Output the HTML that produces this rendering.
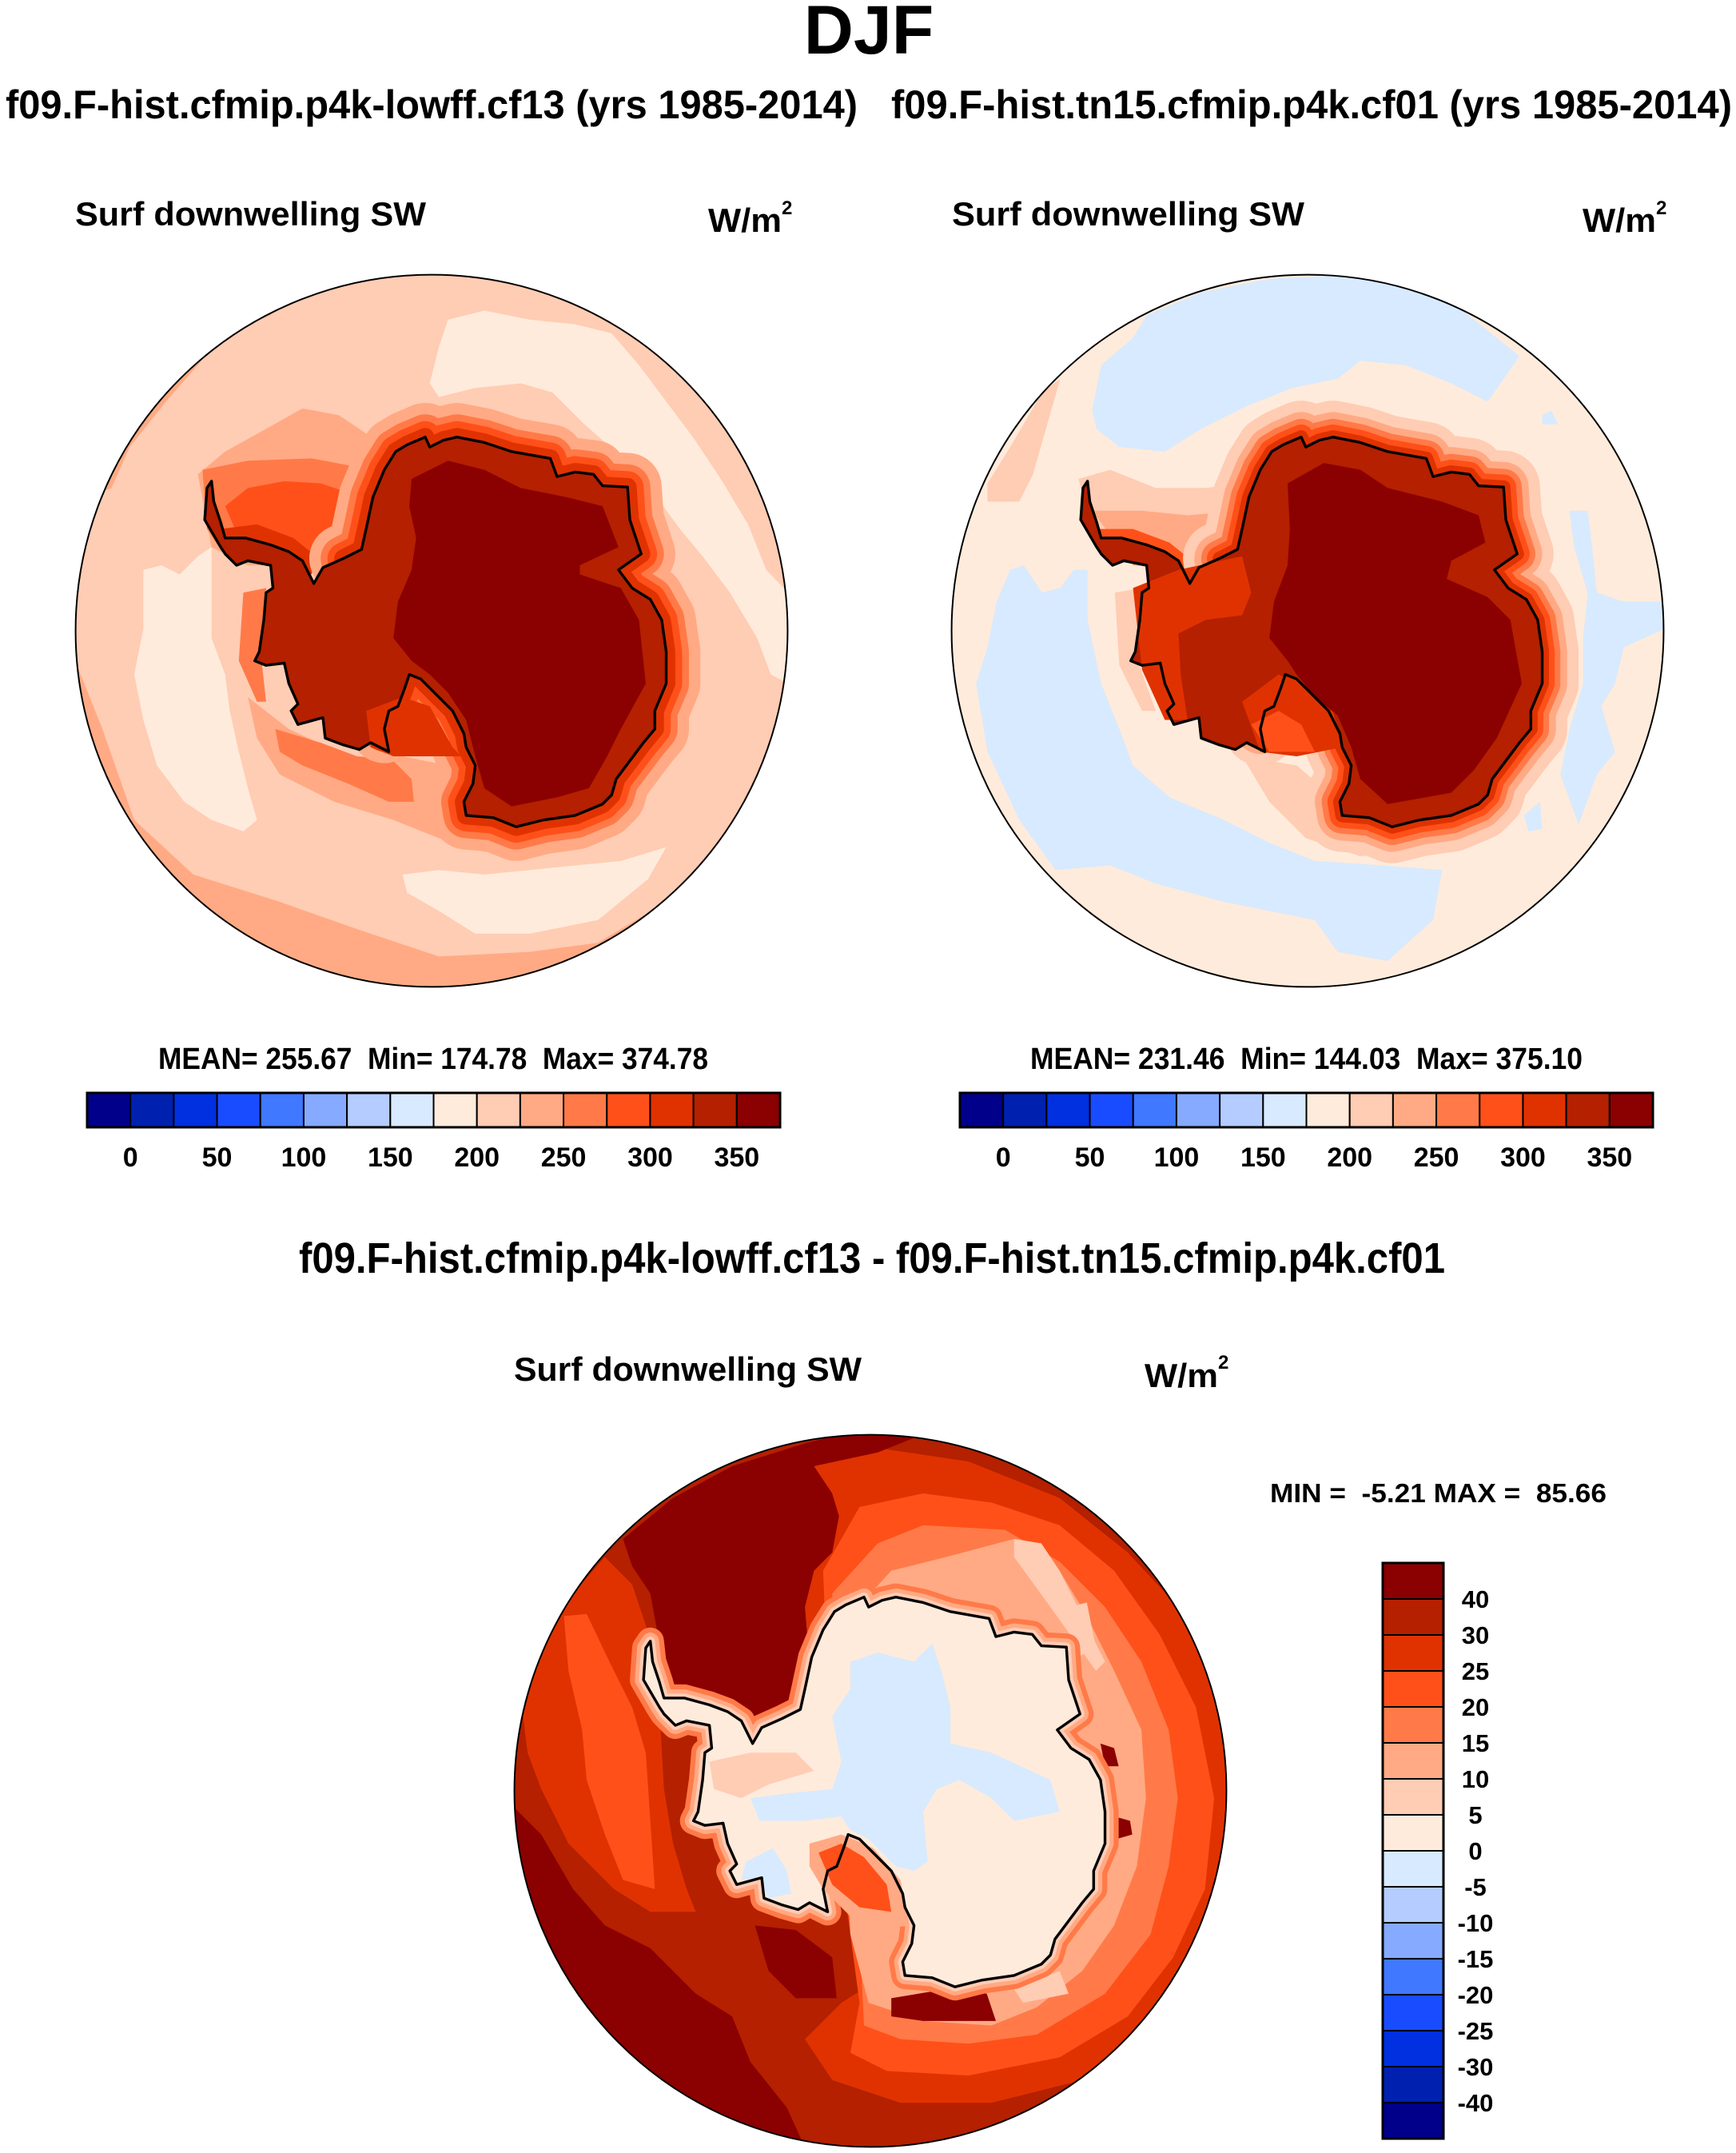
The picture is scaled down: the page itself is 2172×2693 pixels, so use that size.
<!DOCTYPE html>
<html><head><meta charset="utf-8"><style>
html,body{margin:0;padding:0;background:#fff;}
svg{display:block;font-family:"Liberation Sans",Arial,sans-serif;font-weight:bold;}
</style></head><body>
<svg id="fig" width="2172" height="2693" viewBox="0 0 2172 2693" xmlns="http://www.w3.org/2000/svg">
<rect width="2172" height="2693" fill="#fff"/>
<text x="1087" y="67" font-size="86" text-anchor="middle">DJF</text>
<text x="7" y="148" font-size="50" textLength="1066" lengthAdjust="spacingAndGlyphs">f09.F-hist.cfmip.p4k-lowff.cf13 (yrs 1985-2014)</text>
<text x="1115" y="148" font-size="50" textLength="1052" lengthAdjust="spacingAndGlyphs">f09.F-hist.tn15.cfmip.p4k.cf01 (yrs 1985-2014)</text>
<text x="94" y="282" font-size="42" textLength="439" lengthAdjust="spacingAndGlyphs">Surf downwelling SW</text>
<text x="886" y="290" font-size="42" textLength="92" lengthAdjust="spacingAndGlyphs">W/m</text>
<text x="978" y="268" font-size="24">2</text>
<text x="1191" y="282" font-size="42" textLength="441" lengthAdjust="spacingAndGlyphs">Surf downwelling SW</text>
<text x="1980" y="290" font-size="42" textLength="92" lengthAdjust="spacingAndGlyphs">W/m</text>
<text x="2072" y="268" font-size="24">2</text>
<text x="198" y="1337" font-size="38" textLength="688" lengthAdjust="spacingAndGlyphs">MEAN= 255.67&#160;&#160;Min= 174.78&#160;&#160;Max= 374.78</text>
<text x="1289" y="1337" font-size="38" textLength="691" lengthAdjust="spacingAndGlyphs">MEAN= 231.46&#160;&#160;Min= 144.03&#160;&#160;Max= 375.10</text>
<text x="374" y="1592" font-size="54" textLength="1434" lengthAdjust="spacingAndGlyphs">f09.F-hist.cfmip.p4k-lowff.cf13 - f09.F-hist.tn15.cfmip.p4k.cf01</text>
<text x="643" y="1727" font-size="42" textLength="435" lengthAdjust="spacingAndGlyphs">Surf downwelling SW</text>
<text x="1432" y="1735" font-size="42" textLength="92" lengthAdjust="spacingAndGlyphs">W/m</text>
<text x="1524" y="1712" font-size="24">2</text>
<text x="1589" y="1879" font-size="33" textLength="421" lengthAdjust="spacingAndGlyphs">MIN =&#160;&#160;-5.21 MAX =&#160;&#160;85.66</text>
<g id="maps"></g>
<g id="bars"></g>
</svg>
<script>
var colors=["#00008B","#0020B0","#0030E0","#1A4CFF","#4078FF","#85AAFF","#B4CCFF","#D7EAFF","#FFEBDB","#FFCCB4","#FFAA84","#FF7A48","#FF5019","#E03200","#B42000","#8B0000"];
var absLevels=[0,25,50,75,100,125,150,175,200,225,250,275,300,325,350];
var absLabels=["0","","50","","100","","150","","200","","250","","300","","350"];
var diffLevels=[40,30,25,20,15,10,5,0,-5,-10,-15,-20,-25,-30,-40];
var diffLabels=["40","30","25","20","15","10","5","0","-5","-10","-15","-20","-25","-30","-40"];
var coast=[[300,455],[305,500],[320,545],[330,580],[375,580],[430,595],[470,610],[500,630],[525,680],[545,645],[590,625],[630,605],[640,560],[655,490],[680,430],[705,390],[730,375],[770,358],[780,380],[810,365],[840,358],[900,370],[960,390],[1045,405],[1060,445],[1100,435],[1140,440],[1160,465],[1215,468],[1220,540],[1245,615],[1195,650],[1225,690],[1265,715],[1290,760],[1300,830],[1300,900],[1275,960],[1275,1000],[1250,1030],[1220,1070],[1190,1110],[1180,1145],[1160,1165],[1100,1190],[1030,1200],[970,1215],[920,1195],[860,1190],[855,1160],[875,1120],[880,1080],[860,1040],[855,1010],[830,960],[780,910],[760,890],[735,880],[725,910],[710,950],[690,960],[680,1000],[690,1050],[650,1030],[625,1045],[590,1035],[550,1020],[545,975],[490,990],[475,960],[490,945],[470,900],[460,855],[420,860],[395,850],[405,830],[415,760],[420,700],[435,690],[430,640],[380,630],[355,640],[330,615],[320,600],[285,540],[290,470]];
var leftBase=9;
var leftPre=[
[10,[[0,850],[60,1000],[130,1200],[260,1320],[450,1380],[620,1440],[800,1500],[1000,1490],[1150,1470],[1300,1380],[1400,1300],[1568,1300],[1568,1568],[0,1568]]],
[10,[[0,500],[80,470],[120,380],[200,280],[330,130],[430,90],[440,0],[0,0]]],
[8,[[150,650],[190,640],[230,660],[270,620],[300,600],[300,700],[300,800],[330,880],[340,960],[360,1050],[380,1130],[400,1200],[370,1225],[300,1200],[240,1160],[180,1080],[150,980],[130,880],[150,780]]],
[8,[[820,100],[900,80],[1000,100],[1100,110],[1180,130],[1240,200],[1300,280],[1360,360],[1420,450],[1480,550],[1520,650],[1568,700],[1568,900],[1530,880],[1500,800],[1440,700],[1380,620],[1330,560],[1250,450],[1200,400],[1120,330],[1050,260],[980,240],[880,250],[800,270],[780,240],[800,160]]],
[8,[[720,1320],[800,1310],[900,1320],[1000,1310],[1100,1300],[1200,1290],[1300,1260],[1260,1330],[1150,1420],[1000,1450],[880,1450],[800,1400],[730,1360]]],
[10,[[270,440],[330,390],[420,340],[500,295],[580,310],[640,350],[720,330],[780,320],[700,420],[660,520],[600,600],[500,640],[380,640],[300,600]]],
[10,[[380,930],[470,1000],[600,1060],[720,1060],[820,1080],[830,1170],[880,1230],[1050,1260],[900,1270],[800,1240],[700,1200],[570,1160],[450,1100],[400,1020]]],
[11,[[280,430],[380,410],[520,405],[600,420],[650,440],[660,500],[650,560],[540,650],[420,640],[330,620],[290,560]]],
[11,[[440,1000],[540,1030],[620,1060],[700,1070],[740,1110],[745,1160],[690,1160],[600,1120],[500,1080],[450,1050]]],
[11,[[370,700],[420,690],[410,850],[420,940],[400,940],[360,850]]],
[12,[[330,510],[380,470],[460,455],[540,460],[600,480],[640,520],[640,580],[600,610],[520,640],[440,600],[360,580]]],
[13,[[320,560],[400,550],[480,580],[530,620],[520,660],[440,620],[360,610]]]
];
var leftRings=[[10,150],[11,100],[12,70],[13,40]];
var leftFill=14;
var leftPost=[
[13,[[640,960],[720,930],[780,950],[830,1040],[850,1060],[700,1060],[650,1040]]],
[15,[[740,450],[820,410],[900,430],[980,470],[1080,490],[1160,510],[1195,600],[1110,640],[1110,660],[1200,690],[1240,760],[1255,900],[1200,1000],[1170,1060],[1130,1130],[1060,1150],[960,1170],[900,1130],[880,1060],[860,980],[820,920],[780,880],[740,850],[700,800],[710,720],[740,650],[750,580],[735,510]]]
];
var rightBase=8;
var rightPre=[
[7,[[330,200],[400,140],[430,90],[550,40],[700,10],[900,0],[1100,60],[1250,180],[1180,280],[1100,240],[1000,200],[900,190],[850,230],[750,250],[650,290],[550,340],[470,390],[370,380],[320,340],[310,300]]],
[7,[[130,650],[160,640],[200,700],[240,690],[270,650],[300,650],[300,760],[330,900],[370,1000],[400,1080],[480,1150],[600,1200],[700,1250],[800,1290],[950,1300],[1080,1310],[1060,1420],[960,1510],[850,1490],[800,1420],[600,1380],[450,1340],[350,1300],[230,1310],[150,1200],[80,1050],[55,900],[80,820],[100,720]]],
[7,[[1360,520],[1400,520],[1410,600],[1420,700],[1480,720],[1568,720],[1568,780],[1480,820],[1460,900],[1430,950],[1460,1050],[1420,1100],[1380,1210],[1340,1100],[1360,1000],[1390,900],[1390,800],[1400,700],[1370,600]]],
[7,[[1300,310],[1320,300],[1335,330],[1300,330]]],
[7,[[1260,1190],[1295,1160],[1300,1220],[1270,1225]]],
[9,[[80,460],[130,380],[200,260],[240,230],[180,440],[150,500],[80,500]]],
[9,[[280,450],[350,430],[450,470],[560,470],[640,460],[650,560],[560,640],[420,640],[320,600]]],
[10,[[310,520],[420,520],[520,530],[640,520],[620,600],[520,650],[400,640]]],
[12,[[320,560],[400,560],[480,590],[530,630],[520,670],[440,630],[360,610]]],
[9,[[360,700],[420,690],[410,850],[450,960],[420,960],[370,860]]],
[9,[[640,1060],[760,1080],[830,1140],[880,1220],[1050,1260],[900,1280],[780,1240],[700,1160]]]
];
var rightRings=[[9,160],[10,110],[11,80],[12,55],[13,30]];
var rightFill=14;
var rightPost=[
[13,[[400,690],[500,650],[640,620],[660,700],[640,750],[560,760],[500,790],[505,880],[520,980],[470,980],[420,870]]],
[13,[[640,940],[720,880],[780,910],[840,960],[860,1040],[760,1060],[680,1050]]],
[12,[[660,990],[720,960],[770,990],[800,1050],[700,1050]]],
[15,[[740,460],[820,415],[900,430],[960,470],[1080,500],[1160,530],[1175,590],[1100,630],[1090,670],[1180,710],[1230,760],[1255,900],[1200,1020],[1150,1090],[1100,1140],[960,1165],[900,1110],[880,1040],[850,970],[800,930],[760,880],[740,850],[700,800],[710,720],[740,640],[745,560]]]
];
var diffBase=14;
var diffPre=[
[13,[[650,60],[800,30],[1000,60],[1200,140],[1350,260],[1480,400],[1568,560],[1568,1000],[1500,1150],[1400,1300],[1250,1420],[1050,1470],[850,1470],[700,1420],[640,1330],[720,1250],[800,1200],[640,700],[630,300]]],
[12,[[760,160],[900,130],[1050,150],[1200,200],[1320,300],[1420,440],[1500,600],[1540,800],[1520,1000],[1450,1150],[1350,1280],[1200,1370],[1000,1410],[820,1400],[740,1360],[760,1250],[700,800],[680,300]]],
[11,[[800,240],[900,200],[1080,210],[1200,280],[1300,380],[1380,500],[1440,650],[1460,800],[1440,950],[1400,1100],[1300,1230],[1150,1320],[1000,1340],[850,1330],[770,1300],[760,1100],[720,700],[700,350]]],
[10,[[830,300],[950,270],[1100,230],[1200,300],[1260,400],[1320,520],[1380,650],[1390,800],[1370,950],[1320,1080],[1250,1180],[1150,1260],[1050,1300],[900,1290],[780,1250],[740,1100],[720,700],[720,420]]],
[9,[[1100,230],[1160,240],[1200,300],[1250,400],[1300,500],[1280,520],[1230,450],[1180,380],[1100,270]]],
[9,[[1220,380],[1260,370],[1280,470],[1240,490]]],
[9,[[1100,1220],[1200,1180],[1220,1230],[1120,1250]]],
[15,[[240,230],[350,140],[480,70],[640,20],[720,0],[900,0],[800,40],[660,70],[700,130],[715,180],[700,260],[660,300],[640,380],[650,500],[630,590],[580,620],[540,640],[500,620],[440,590],[380,560],[330,540],[320,460],[300,350],[260,290]]],
[15,[[0,820],[60,880],[130,1000],[200,1080],[300,1130],[400,1230],[480,1280],[520,1380],[600,1480],[640,1568],[0,1568]]],
[15,[[530,1080],[620,1090],[700,1150],[710,1240],[620,1240],[560,1180]]],
[15,[[830,1240],[950,1220],[1040,1230],[1060,1290],[900,1290],[830,1280]]],
[15,[[1290,680],[1320,690],[1330,730],[1300,730]]],
[15,[[1320,840],[1355,850],[1360,880],[1325,890]]],
[13,[[20,620],[60,470],[130,350],[200,270],[260,330],[300,450],[320,600],[330,780],[350,900],[380,1000],[400,1050],[300,1050],[220,1000],[120,900],[60,780],[30,700]]],
[12,[[110,400],[160,395],[210,500],[260,600],[290,700],[300,850],[310,1000],[240,980],[200,880],[160,760],[150,650],[120,520]]],
[12,[[500,640],[580,620],[640,580],[660,640],[640,700],[560,720],[520,700]]]
];
var diffRings=[[11,60],[10,38],[9,20]];
var diffFill=8;
var diffPost=[
[10,[[650,900],[720,880],[790,910],[850,980],[870,1080],[800,1090],[740,1060],[680,1000],[650,950]]],
[12,[[670,920],[720,900],[770,930],[820,990],[830,1050],[760,1040],[700,990]]],
[9,[[430,720],[520,700],[620,700],[660,740],[560,770],[500,800],[440,780]]],
[7,[[740,500],[800,480],[880,500],[920,460],[940,520],[960,600],[960,680],[1050,700],[1180,760],[1200,830],[1100,850],[1050,800],[980,760],[930,780],[900,830],[910,940],[880,960],[840,950],[780,890],[740,870],[720,840],[640,850],[540,850],[520,800],[600,790],[700,780],[720,720],[700,620],[740,560]]],
[7,[[510,940],[570,910],[600,960],[610,1010],[560,1020],[540,975],[500,980]]]
];
var NS="http://www.w3.org/2000/svg";
function mk(t,a,p){var e=document.createElementNS(NS,t);for(var k in a)e.setAttribute(k,a[k]);if(p)p.appendChild(e);return e;}
function pts(a){return a.map(function(p){return p[0]+","+p[1];}).join(" ");}
var maps=document.getElementById("maps");
function drawMap(id,tx,ty,base,pre,rings,fill,post,ringFull){
  var s=892/1568;
  var g=mk("g",{transform:"translate("+tx+","+ty+") scale("+s+")"},maps);
  
  
  var cp=mk("clipPath",{id:id+"-clip"},g);
  mk("circle",{cx:784,cy:784,r:784},cp);
  var inner=mk("g",{"clip-path":"url(#"+id+"-clip)"},g);
  var b=mk("rect",{x:0,y:0,width:1568,height:1568,fill:colors[base]},inner);
  
  
  pre.forEach(function(L){
    var e=mk("polygon",{points:pts(L[1]),fill:colors[L[0]]},inner);
    
    
  });
  var ringPts=ringFull?coast:coast.slice(10,62);
  rings.forEach(function(R){
    var e=mk(ringFull?"polygon":"polyline",{points:pts(ringPts),fill:"none",stroke:colors[R[0]],"stroke-width":R[1],"stroke-linejoin":"round","stroke-linecap":"round"},inner);
    
    
  });
  var f=mk("polygon",{points:pts(coast),fill:colors[fill]},inner);
  
  
  post.forEach(function(L){
    var e=mk("polygon",{points:pts(L[1]),fill:colors[L[0]]},inner);
    
    
  });
  var c=mk("polygon",{points:pts(coast),fill:"none",stroke:"#000","stroke-width":6,"stroke-linejoin":"round"},inner);
  
  
  var o=mk("circle",{cx:784,cy:784,r:783,fill:"none",stroke:"#000","stroke-width":3.5},g);
  
  
}
drawMap("left-map",94,343,leftBase,leftPre,leftRings,leftFill,leftPost,false);
drawMap("right-map",1190,343,rightBase,rightPre,rightRings,rightFill,rightPost,false);
drawMap("diff-map",643,1794,diffBase,diffPre,diffRings,diffFill,diffPost,true);

var bars=document.getElementById("bars");
function hbar(id,x0,x1,y0,y1){
  var g=mk("g",{},bars);
  
  
  var n=colors.length,w=(x1-x0)/n;
  for(var i=0;i<n;i++){
    var r=mk("rect",{x:x0+i*w,y:y0,width:w,height:y1-y0,fill:colors[i],stroke:"#000","stroke-width":2},g);
    
    
  }
  mk("rect",{x:x0,y:y0,width:x1-x0,height:y1-y0,fill:"none",stroke:"#000","stroke-width":3},g);
  for(var j=0;j<absLevels.length;j++){
    if(!absLabels[j])continue;
    var t=mk("text",{x:x0+(j+1)*w,y:1459,"font-size":34,"text-anchor":"middle"},g);
    t.textContent=absLabels[j];
    
    
  }
}
hbar("left-colorbar",109,976,1367,1410);
hbar("right-colorbar",1201,2068,1367,1410);
(function(){
  var g=mk("g",{},bars);
  
  
  var n=colors.length,y0=1955,y1=2675,h=(y1-y0)/n;
  for(var i=0;i<n;i++){
    var r=mk("rect",{x:1730,y:y0+i*h,width:76,height:h,fill:colors[n-1-i],stroke:"#000","stroke-width":2},g);
    
    
  }
  mk("rect",{x:1730,y:y0,width:76,height:y1-y0,fill:"none",stroke:"#000","stroke-width":3},g);
  for(var j=0;j<diffLevels.length;j++){
    var t=mk("text",{x:1846,y:y0+(j+1)*h+11,"font-size":31,"text-anchor":"middle"},g);
    t.textContent=diffLabels[j];
    
    
  }
})();
</script>
</body></html>
